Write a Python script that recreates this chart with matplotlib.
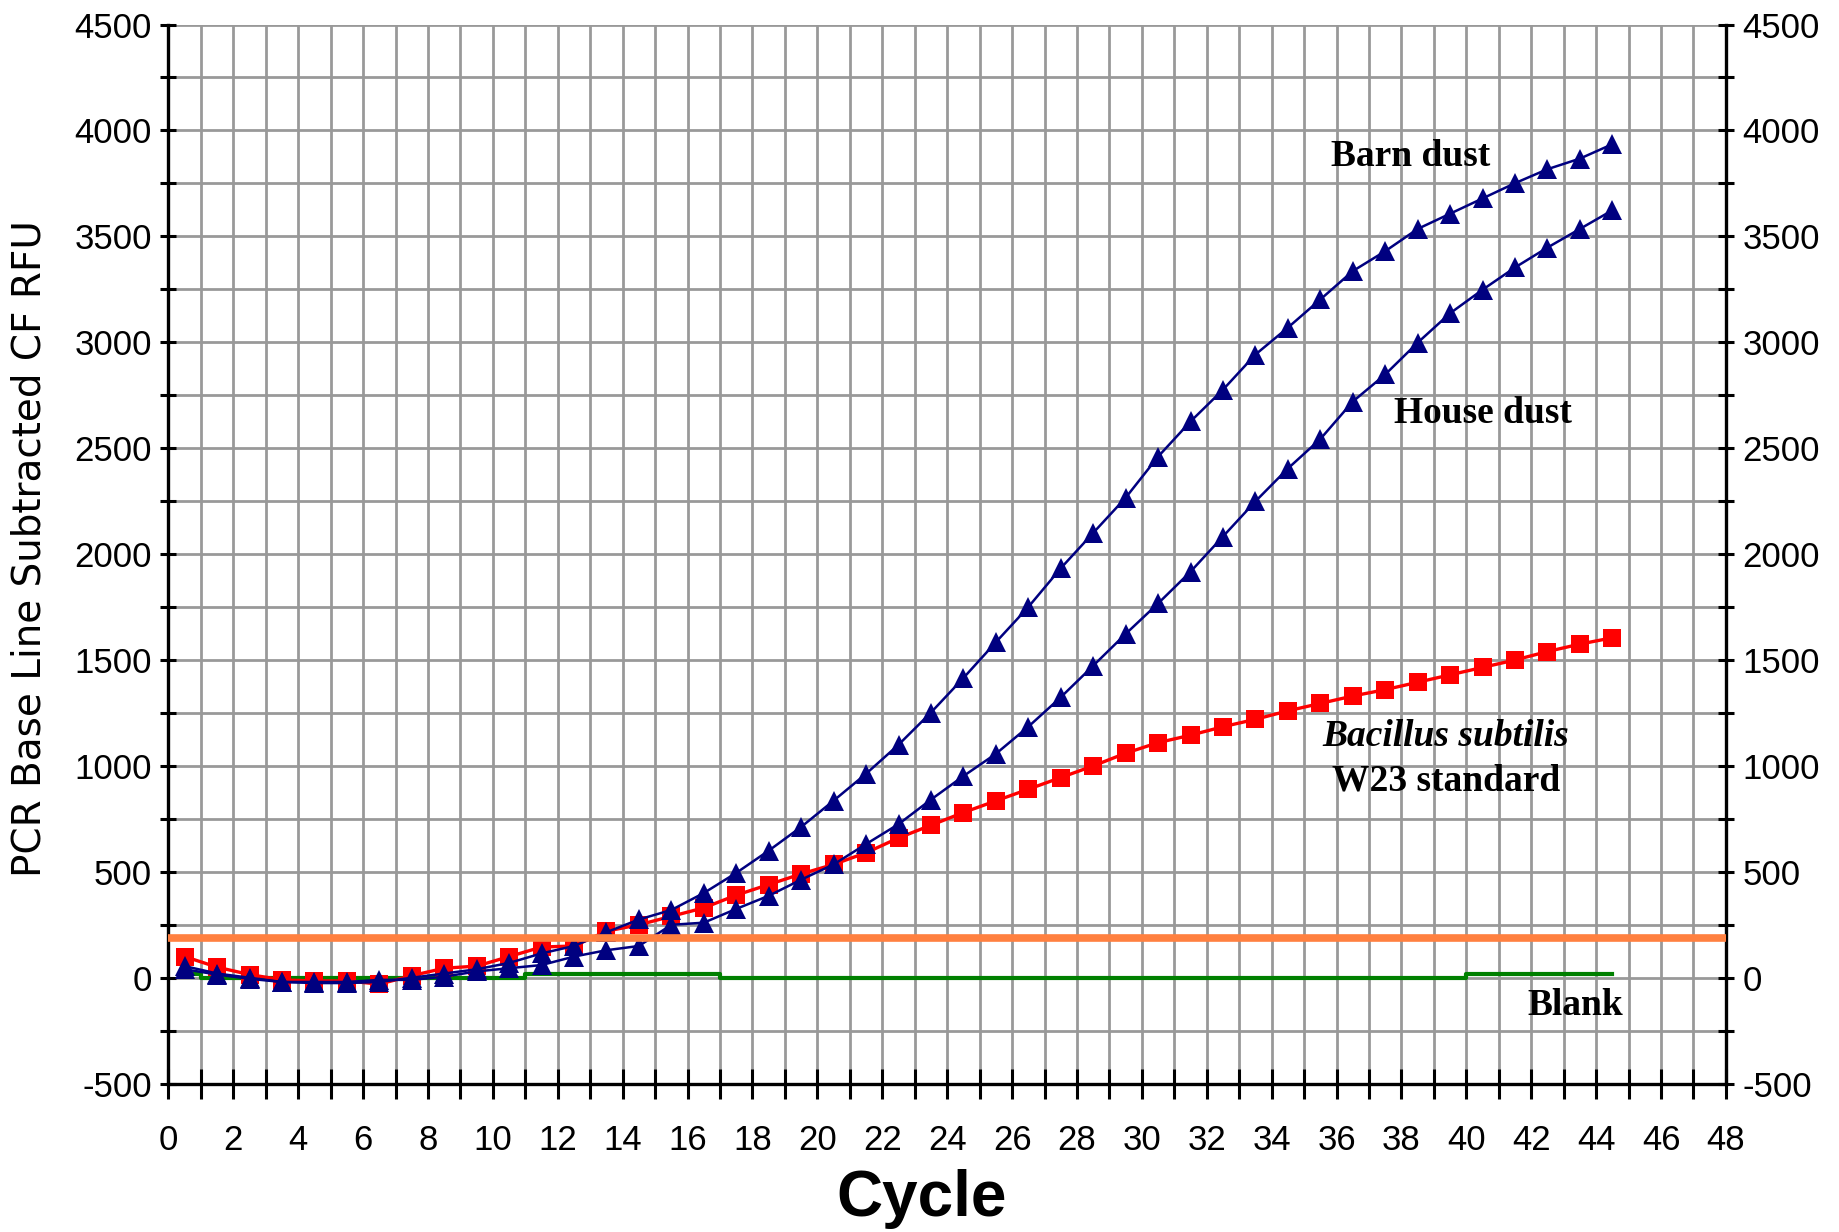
import matplotlib
matplotlib.use("Agg")
import matplotlib.pyplot as plt

# PCR amplification curves, one reading per cycle
cycles = [c + 0.5 for c in range(45)]

bacillus = [100, 50, 15, -10, -15, -15, -30, 10, 45, 55,
            100, 145, 150, 220, 250, 290, 330, 390, 440, 490,
            535, 590, 660, 720, 780, 835, 890, 945, 1000, 1060,
            1110, 1145, 1185, 1220, 1260, 1295, 1330, 1360, 1395, 1430,
            1465, 1500, 1540, 1575, 1605]

barn_dust = [55, 20, 0, -20, -25, -25, -20, 0, 20, 40,
             70, 115, 150, 215, 275, 320, 400, 495, 600, 712,
             836, 963, 1100, 1252, 1415, 1584, 1750, 1933, 2100, 2266,
             2460, 2626, 2776, 2942, 3069, 3202, 3336, 3430, 3535, 3607,
             3679, 3751, 3817, 3867, 3935]

house_dust = [40, 15, -5, -20, -20, -20, -10, -10, 5, 30,
              45, 60, 100, 130, 150, 250, 260, 325, 387, 463,
              535, 631, 725, 841, 952, 1057, 1185, 1324, 1473, 1623,
              1767, 1917, 2083, 2249, 2404, 2543, 2720, 2848, 2998, 3137,
              3248, 3353, 3447, 3535, 3623]

blank = [17, 0, 0, 0, 0, 0, 0, 0, 0, 0,
         0, 17, 17, 17, 17, 17, 17, 0, 0, 0,
         0, 0, 0, 0, 0, 0, 0, 0, 0, 0,
         0, 0, 0, 0, 0, 0, 0, 0, 0, 0,
         17, 17, 17, 17, 17]

threshold = 190

x_ticks = list(range(49))
x_labels = [str(t) if t % 2 == 0 else '' for t in x_ticks]
y_ticks = list(range(-500, 4501, 250))
y_labels = [str(t) if t % 500 == 0 else '' for t in y_ticks]

tick_font = ['Liberation Sans', 'DejaVu Sans']
navy = '#000080'

fig = plt.figure(figsize=(18.39, 12.32), dpi=100)
ax = fig.add_axes([0.0916, 0.1204, 0.8469, 0.8597])

ax.plot(cycles, blank, color='#008000', lw=3, drawstyle='steps-mid', zorder=3)
ax.plot(cycles, bacillus, color='#ff0000', lw=2.4, marker='s', ms=12.5,
        markeredgewidth=0, zorder=4)
ax.plot(cycles, house_dust, color=navy, lw=1.8, marker='^', ms=15,
        markeredgewidth=0, zorder=5)
ax.plot(cycles, barn_dust, color=navy, lw=1.8, marker='^', ms=15,
        markeredgewidth=0, zorder=5)
ax.axhline(threshold, color='#ff8040', lw=5.5, zorder=6)

ax.set_xlim(0, 48)
ax.set_ylim(-500, 4500)
ax.set_xticks(x_ticks)
ax.set_xticklabels(x_labels, family=tick_font, fontsize=25)
ax.set_yticks(y_ticks)
ax.set_yticklabels(y_labels, family=tick_font, fontsize=25)

ax.grid(True, color='#999999', lw=2.0, zorder=0)
ax.set_axisbelow(True)

for side in ['left', 'right', 'bottom']:
    ax.spines[side].set_linewidth(2.4)
ax.spines['top'].set_visible(False)

ax.tick_params(axis='y', direction='inout', length=12, width=2.2,
               right=True, labelright=True, pad=6)
ax.tick_params(axis='x', direction='inout', length=22, width=2.2, pad=18)
for t in ax.yaxis.get_major_ticks():
    t.label2.set_family(tick_font)
    t.label2.set_fontsize(25)

ax.set_ylabel('PCR Base Line Subtracted CF RFU', family='DejaVu Sans', fontsize=28)
ax.yaxis.set_label_coords(-0.077, 0.505)

fig.text(0.501, 0.027, 'Cycle', family='Liberation Sans', weight='bold',
         fontsize=46, ha='center', va='center')

serif = 'Liberation Serif'
ax.text(38.27, 3879, 'Barn dust', family=serif, weight='bold', fontsize=27,
        ha='center', va='center')
ax.text(40.51, 2665, 'House dust', family=serif, weight='bold', fontsize=27,
        ha='center', va='center')
ax.text(39.36, 1141, 'Bacillus subtilis', family=serif, weight='bold',
        style='italic', fontsize=27, ha='center', va='center')
ax.text(39.39, 930, 'W23 standard', family=serif, weight='bold', fontsize=27,
        ha='center', va='center')
ax.text(43.35, -129, 'Blank', family=serif, weight='bold', fontsize=27,
        ha='center', va='center')

fig.savefig('out.png', dpi=100)
